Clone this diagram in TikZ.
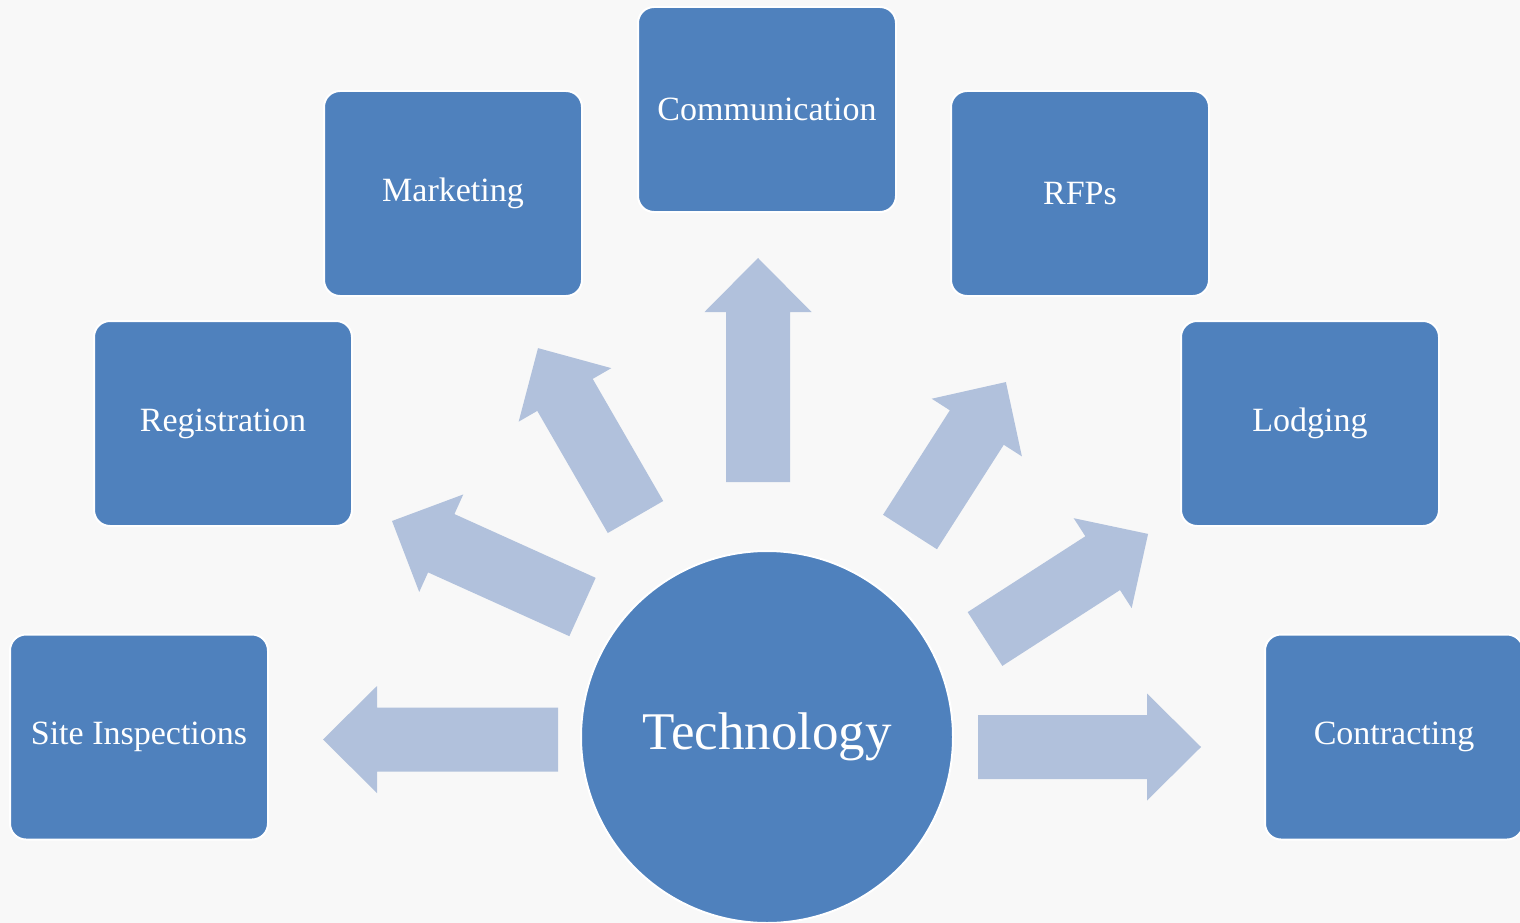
\documentclass[tikz,border=0pt]{standalone}
\usepackage{fontspec}
\setmainfont{Liberation Serif}
\definecolor{boxblue}{RGB}{79,129,189}
\definecolor{arrowblue}{RGB}{177,193,220}
\definecolor{bggray}{RGB}{248,248,248}
\begin{document}
\begin{tikzpicture}[x=1pt,y=-1pt,
  topic/.style={rectangle,rounded corners=16pt,fill=boxblue,draw=white,line width=2pt,
    minimum width=258pt,minimum height=205pt,text=white,font=\fontsize{34}{40}\selectfont},
  hub/.style={circle,fill=boxblue,draw=white,line width=2pt,minimum size=372pt,
    text=white,font=\fontsize{53}{60}\selectfont},
  blockarrow/.style={fill=arrowblue}]
\fill[bggray] (0,0) rectangle (1520,923);
\useasboundingbox (0,0) rectangle (1520,923);
% centre
\node[hub] (tech) at (767,737) {Technology};
% topics round it
\node[topic] (site) at (139,737) {Site Inspections};
\node[topic] (reg) at (223,423.5) {Registration};
\node[topic] (mkt) at (453,193.5) {Marketing};
\node[topic] (comm) at (767,109.5) {Communication};
\node[topic] (rfp) at (1080,193.5) {RFPs};
\node[topic] (lodg) at (1310,423.5) {Lodging};
\node[topic] (contr) at (1394,737) {Contracting};
% block arrows: tail x / tail y / angle / length
\foreach \x/\y/\a/\l in {558/739.5/180/235, 582.5/607/155.7/209, 635.5/517/120/195,
    758/482/90/224, 910/532/57.4/178, 985/639/32.8/194, 978/747/0/223}
  \fill[blockarrow,shift={(\x,\y)},rotate=\a] (0,-32) -- (\l-54,-32) -- (\l-54,-53.5)
    -- (\l,0) -- (\l-54,53.5) -- (\l-54,32) -- (0,32) -- cycle;
\end{tikzpicture}
\end{document}
